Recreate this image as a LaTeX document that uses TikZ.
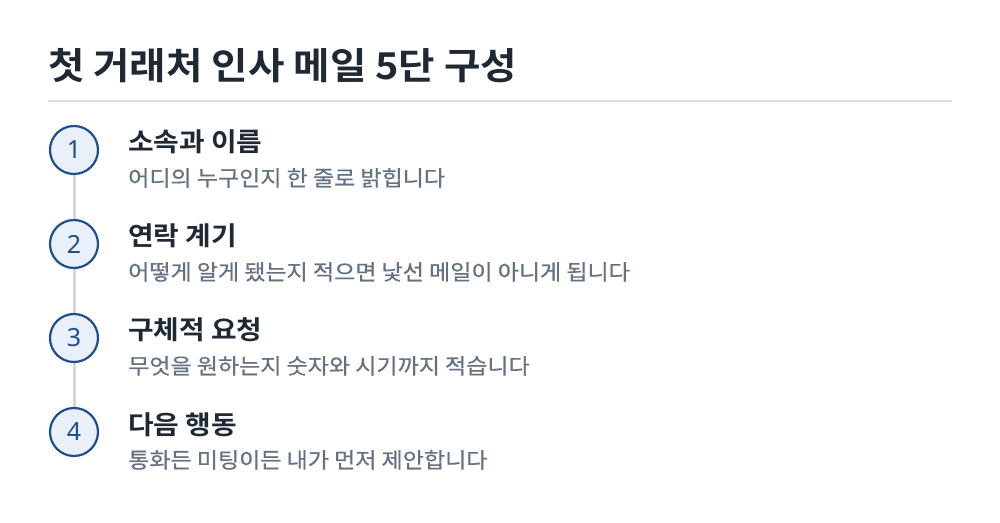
\documentclass[tikz,border=0pt]{standalone}
\usepackage{fontspec}
\setmainfont{Noto Sans CJK KR}[BoldFont={Noto Sans CJK KR Bold},FakeStretch=1.07]
\newfontfamily\descfont{Noto Sans CJK KR}[FakeStretch=1.07,FakeBold=0.6]
\newfontfamily\numfont{Noto Sans}
\definecolor{titlec}{HTML}{1F2933}
\definecolor{rulec}{HTML}{D8DDE6}
\definecolor{descc}{HTML}{657282}
\definecolor{circfill}{HTML}{EAF0FA}
\definecolor{circline}{HTML}{1F4E8C}
\definecolor{linkc}{HTML}{D3D8E0}
\begin{document}
\begin{tikzpicture}[x=1pt,y=1pt,
  stepcircle/.style={circle,draw=circline,line width=2.2pt,fill=circfill,minimum size=48pt,inner sep=0pt,text=circline,font=\numfont\fontsize{25}{27}\selectfont},
  headtext/.style={anchor=base west,inner sep=0pt,text=titlec,font=\fontsize{26}{28}\selectfont\bfseries},
  desctext/.style={anchor=base west,inner sep=0pt,text=descc,font=\descfont\fontsize{21.5}{23}\selectfont}]
\useasboundingbox[fill=white] (0,0) rectangle (1000,522);
\node[anchor=base west,inner sep=0pt,text=titlec,font=\fontsize{37}{40}\selectfont\bfseries] (title) at (48,442) {첫 거래처 인사 메일 5단 구성};
\coordinate (rl) at (48,421);
\coordinate (rr) at (952,421);
\draw[rulec,line width=2pt] (rl) -- (rr);
\coordinate (c1) at (74,372);
\coordinate (c2) at (74,278);
\coordinate (c3) at (74,184);
\coordinate (c4) at (74,90);
\draw[linkc,line width=3pt] (c1) -- (c4);
\node[stepcircle] (n1) at (c1) {1};
\node[stepcircle] (n2) at (c2) {2};
\node[stepcircle] (n3) at (c3) {3};
\node[stepcircle] (n4) at (c4) {4};
\node[headtext] (h1) at (128,370) {소속과 이름};
\node[desctext] (d1) at (128,336) {어디의 누구인지 한 줄로 밝힙니다};
\node[headtext] (h2) at (128,276) {연락 계기};
\node[desctext] (d2) at (128,242) {어떻게 알게 됐는지 적으면 낯선 메일이 아니게 됩니다};
\node[headtext] (h3) at (128,182) {구체적 요청};
\node[desctext] (d3) at (128,148) {무엇을 원하는지 숫자와 시기까지 적습니다};
\node[headtext] (h4) at (128,88) {다음 행동};
\node[desctext] (d4) at (128,54) {통화든 미팅이든 내가 먼저 제안합니다};
\end{tikzpicture}
\end{document}
